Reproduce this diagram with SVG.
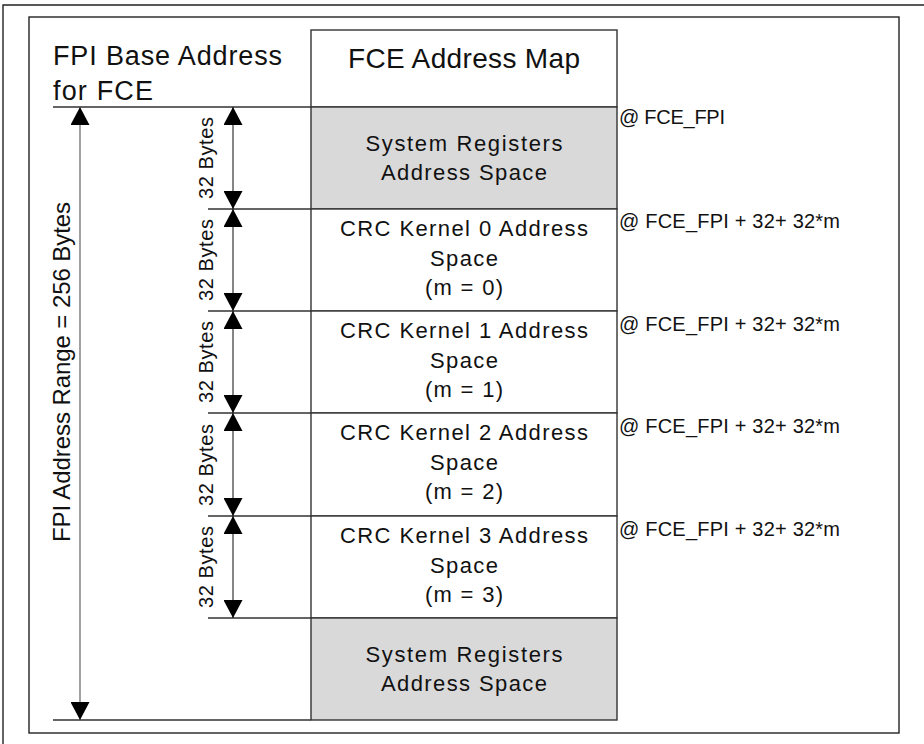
<svg xmlns="http://www.w3.org/2000/svg" width="924" height="744" viewBox="0 0 924 744">
<style>
text{font-family:"Liberation Sans",Arial,sans-serif;fill:#111}
.frame{fill:none;stroke:#222;stroke-width:1.4}
.cell{fill:#fff;stroke:#333;stroke-width:1.4}
.gray{fill:#d9d9d9;stroke:#333;stroke-width:1.4}
.ln{stroke:#333;stroke-width:1.4;fill:none}
.arr{stroke:#222;stroke-width:1.1;fill:none;marker-start:url(#ah);marker-end:url(#ah)}
.big{stroke:#555;stroke-width:1.1;fill:none;marker-start:url(#ah);marker-end:url(#ah)}
.t20{font-size:20px}
.t22{font-size:22px}
.mid{text-anchor:middle}
</style>
<defs>
<marker id="ah" viewBox="0 0 18 19" refX="18" refY="9.5" markerWidth="18" markerHeight="19" markerUnits="userSpaceOnUse" orient="auto-start-reverse">
<path d="M0,0 L18,9.5 L0,19 z" fill="#000"/>
</marker>
</defs>
<path class="frame" d="M3,744 V5 H924"/>
<rect class="frame" x="29" y="17" width="870" height="716"/>

<g id="title-left">
<text x="53" y="65" font-size="27" textLength="229" lengthAdjust="spacing">FPI Base Address</text>
<text x="53" y="100" font-size="27" textLength="100" lengthAdjust="spacing">for FCE</text>
</g>

<g id="header">
<rect class="cell" x="311" y="30" width="306" height="77"/>
<text x="464" y="68" font-size="28" class="mid" textLength="232" lengthAdjust="spacing">FCE Address Map</text>
</g>

<g id="sysreg-top">
<rect class="gray" x="311" y="107" width="306" height="102"/>
<text x="464" y="151" class="t22 mid" textLength="197" lengthAdjust="spacing">System Registers</text>
<text x="464" y="180" class="t22 mid" textLength="166" lengthAdjust="spacing">Address Space</text>
</g>

<g id="kernel0">
<rect class="cell" x="311" y="209" width="306" height="102"/>
<text x="464" y="236" class="t22 mid" textLength="248" lengthAdjust="spacing">CRC Kernel 0 Address</text>
<text x="464" y="266" class="t22 mid" textLength="68" lengthAdjust="spacing">Space</text>
<text x="464" y="295" class="t22 mid" textLength="78" lengthAdjust="spacing">(m = 0)</text>
</g>

<g id="kernel1">
<rect class="cell" x="311" y="311" width="306" height="102"/>
<text x="464" y="338" class="t22 mid" textLength="248" lengthAdjust="spacing">CRC Kernel 1 Address</text>
<text x="464" y="368" class="t22 mid" textLength="68" lengthAdjust="spacing">Space</text>
<text x="464" y="397" class="t22 mid" textLength="78" lengthAdjust="spacing">(m = 1)</text>
</g>

<g id="kernel2">
<rect class="cell" x="311" y="413" width="306" height="103"/>
<text x="464" y="440" class="t22 mid" textLength="248" lengthAdjust="spacing">CRC Kernel 2 Address</text>
<text x="464" y="470" class="t22 mid" textLength="68" lengthAdjust="spacing">Space</text>
<text x="464" y="499" class="t22 mid" textLength="78" lengthAdjust="spacing">(m = 2)</text>
</g>

<g id="kernel3">
<rect class="cell" x="311" y="516" width="306" height="102"/>
<text x="464" y="543" class="t22 mid" textLength="248" lengthAdjust="spacing">CRC Kernel 3 Address</text>
<text x="464" y="573" class="t22 mid" textLength="68" lengthAdjust="spacing">Space</text>
<text x="464" y="602" class="t22 mid" textLength="78" lengthAdjust="spacing">(m = 3)</text>
</g>

<g id="sysreg-bottom">
<rect class="gray" x="311" y="618" width="306" height="102"/>
<text x="464" y="662" class="t22 mid" textLength="197" lengthAdjust="spacing">System Registers</text>
<text x="464" y="691" class="t22 mid" textLength="166" lengthAdjust="spacing">Address Space</text>
</g>

<g id="addr-labels">
<text x="619" y="124" class="t20" textLength="106" lengthAdjust="spacing">@ FCE_FPI</text>
<text x="619" y="228" class="t20" textLength="221" lengthAdjust="spacing">@ FCE_FPI + 32+ 32*m</text>
<text x="619" y="331" class="t20" textLength="221" lengthAdjust="spacing">@ FCE_FPI + 32+ 32*m</text>
<text x="619" y="433" class="t20" textLength="221" lengthAdjust="spacing">@ FCE_FPI + 32+ 32*m</text>
<text x="619" y="536" class="t20" textLength="221" lengthAdjust="spacing">@ FCE_FPI + 32+ 32*m</text>
</g>

<g id="connectors">
<path class="ln" d="M53,107 H311 M53,720 H311 M208,209 H311 M208,311 H311 M208,413 H311 M208,516 H311 M208,618 H311"/>
<line class="big" x1="80" y1="107" x2="80" y2="720"/>
<line class="arr" x1="233" y1="107" x2="233" y2="209"/>
<line class="arr" x1="233" y1="209" x2="233" y2="311"/>
<line class="arr" x1="233" y1="311" x2="233" y2="413"/>
<line class="arr" x1="233" y1="413" x2="233" y2="516"/>
<line class="arr" x1="233" y1="516" x2="233" y2="618"/>
</g>

<g id="dimension-labels">
<text transform="translate(70,372) rotate(-90)" font-size="24" class="mid" textLength="340" lengthAdjust="spacing">FPI Address Range = 256 Bytes</text>
<text transform="translate(213,158) rotate(-90)" class="t20 mid" textLength="82" lengthAdjust="spacing">32 Bytes</text>
<text transform="translate(213,260) rotate(-90)" class="t20 mid" textLength="82" lengthAdjust="spacing">32 Bytes</text>
<text transform="translate(213,362) rotate(-90)" class="t20 mid" textLength="82" lengthAdjust="spacing">32 Bytes</text>
<text transform="translate(213,465) rotate(-90)" class="t20 mid" textLength="82" lengthAdjust="spacing">32 Bytes</text>
<text transform="translate(213,567) rotate(-90)" class="t20 mid" textLength="82" lengthAdjust="spacing">32 Bytes</text>
</g>
</svg>
